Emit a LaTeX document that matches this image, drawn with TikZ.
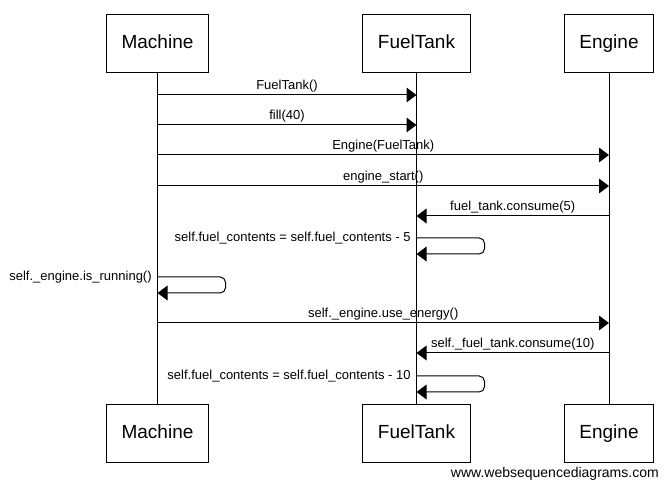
\documentclass[tikz,border=0pt]{standalone}
\usepackage{fontspec}
\setmainfont{Liberation Sans}
\usetikzlibrary{arrows.meta}
\tikzset{
	actor/.style={draw, line width=0.75pt, minimum height=43.5pt, inner xsep=11.25pt, text height=10.5pt, text depth=3pt, font=\fontsize{14.25}{16}\selectfont},
	life/.style={line width=0.75pt},
	call/.style={line width=0.75pt, -{Triangle[length=7.5pt, width=11pt]}},
	lbl/.style={font=\fontsize{9.75}{11}\selectfont, inner sep=2pt}
}

\begin{document}
\begin{tikzpicture}[x=0.75pt, y=-0.75pt]
		%%%%% START %%%%%
		\useasboundingbox (0, 0) rectangle (669, 488);
		
		\node[actor] (mT) at (157.5, 44) {Machine};
		\node[actor] (fT) at (416.5, 44) {FuelTank};
		\node[actor] (eT) at (609, 44) {Engine};
		
		\node[actor] (mB) at (157.5, 434) {Machine};
		\node[actor] (fB) at (416.5, 434) {FuelTank};
		\node[actor] (eB) at (609, 434) {Engine};
		
		\draw[life] (mT) -- (mB);
		\draw[life] (fT) -- (fB);
		\draw[life] (eT) -- (eB);
		
		\draw[call] (mT |- 0, 95) -- node[lbl, above] {FuelTank()} (fT |- 0, 95);
		\draw[call] (mT |- 0, 125) -- node[lbl, above] {fill(40)} (fT |- 0, 125);
		\draw[call] (mT |- 0, 155) -- node[lbl, above] {Engine(FuelTank)} (eT |- 0, 155);
		\draw[call] (mT |- 0, 186) -- node[lbl, above] {engine\_start()} (eT |- 0, 186);
		
		\draw[call] (eT |- 0, 216) -- node[lbl, above] {fuel\_tank.consume(5)} (fT |- 0, 216);
		\draw[call, rounded corners=4pt] (fT |- 0, 238) node[lbl, anchor=east, xshift=-2pt] {self.fuel\_contents = self.fuel\_contents - 5}
			-- ++(68, 0) -- ++(0, 16) -- (fT |- 0, 254);
		
		\draw[call, rounded corners=4pt] (mT |- 0, 277) node[lbl, anchor=east, xshift=-2pt] {self.\_engine.is\_running()}
			-- ++(68, 0) -- ++(0, 16) -- (mT |- 0, 293);
		
		\draw[call] (mT |- 0, 323) -- node[lbl, above] {self.\_engine.use\_energy()} (eT |- 0, 323);
		\draw[call] (eT |- 0, 353) -- node[lbl, above] {self.\_fuel\_tank.consume(10)} (fT |- 0, 353);
		\draw[call, rounded corners=4pt] (fT |- 0, 376) node[lbl, anchor=east, xshift=-2pt] {self.fuel\_contents = self.fuel\_contents - 10}
			-- ++(68, 0) -- ++(0, 16) -- (fT |- 0, 392);
		
		\node[anchor=east, inner sep=0pt, font=\fontsize{10.5}{12}\selectfont] (site) at (659, 474) {www.websequencediagrams.com};
		%%%%% END %%%%%
\end{tikzpicture}
\end{document}
